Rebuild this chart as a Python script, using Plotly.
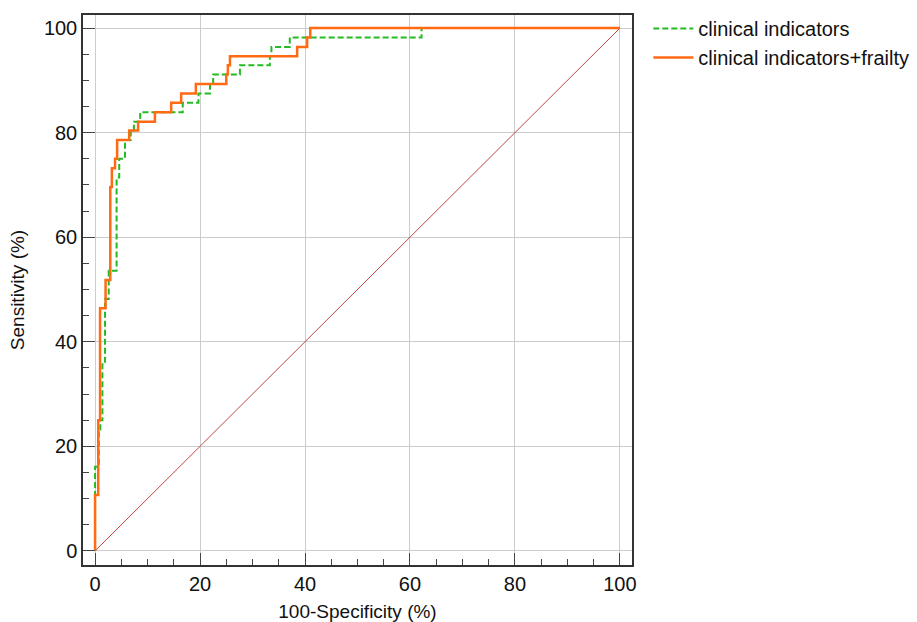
import plotly.graph_objects as go

# ROC operating points (100-Specificity %, Sensitivity %)
fpr_clinical = [0, 0, 0.7, 1.0, 1.4, 1.9, 2.6, 4.1, 4.6, 5.7, 6.8, 7.4, 8.6, 16.7,
                19.7, 21.9, 22.5, 27.6, 33.3, 33.6, 37.1, 62.2, 100]
sens_clinical = [0, 16.1, 23.2, 25.0, 35.7, 48.2, 53.6, 71.4, 75.0, 78.6, 80.4, 82.1, 83.9, 85.7,
                 87.5, 89.3, 91.1, 92.9, 94.6, 96.4, 98.2, 100, 100]

fpr_frailty = [0, 0, 0.6, 0.95, 2.0, 2.9, 3.2, 3.8, 4.2, 6.5, 8.2, 11.4, 14.5, 16.4,
               19.2, 25.0, 25.3, 25.7, 38.5, 40.4, 41.0, 100]
sens_frailty = [0, 10.7, 25.0, 46.4, 51.8, 69.6, 73.2, 75.0, 78.6, 80.4, 82.1, 83.9, 85.7, 87.5,
                89.3, 91.1, 92.9, 94.6, 96.4, 98.2, 100, 100]

diag_x = [0, 100]
diag_y = [0, 100]

series_names = ["clinical indicators", "clinical indicators+frailty"]
tick_vals = [0, 20, 40, 60, 80, 100]

FONT = "Liberation Sans, Arial, sans-serif"

fig = go.Figure()
fig.add_trace(go.Scatter(x=diag_x, y=diag_y, mode="lines",
                         line=dict(color="#C0463E", width=1), showlegend=False,
                         hoverinfo="skip"))
fig.add_trace(go.Scatter(x=fpr_clinical, y=sens_clinical, mode="lines", name=series_names[0],
                         line=dict(color="#22BB22", width=2, dash="6px,3px", shape="hv"),
                         legendgroup="a"))
fig.add_trace(go.Scatter(x=fpr_frailty, y=sens_frailty, mode="lines", name=series_names[1],
                         line=dict(color="#FF6A13", width=2.5, shape="hv"),
                         legendgroup="b"))

axis_common = dict(
    automargin=False,
    showline=True, linecolor="#333333", linewidth=1.5, mirror=True,
    showgrid=True, gridcolor="#CCCCCC", gridwidth=1, zeroline=False,
    ticks="inside", ticklen=12, tickcolor="#444444", tickwidth=1,
    tickvals=tick_vals,
    minor=dict(ticks="inside", ticklen=6, dtick=5, tick0=0, tickcolor="#444444",
               showgrid=False),
    tickfont=dict(family=FONT, size=20, color="#111111"),
)

fig.update_xaxes(range=[-2.3, 102.3],
                 title=dict(text="100-Specificity (%)", font=dict(family=FONT, size=19, color="#111111"),
                            standoff=12),
                 **axis_common)
fig.update_yaxes(range=[-2.7, 102.5],
                 title=dict(text="Sensitivity (%)", font=dict(family=FONT, size=19, color="#111111"),
                            standoff=14),
                 **axis_common)

fig.update_layout(
    width=917, height=622,
    margin=dict(l=83, r=285, t=15, b=57),
    paper_bgcolor="white", plot_bgcolor="white",
    font=dict(family=FONT, size=19, color="#111111"),
    legend=dict(xref="container", yref="container", x=0.707, xanchor="left",
                y=0.9855, yanchor="top",
                font=dict(family=FONT, size=20, color="#111111"),
                tracegroupgap=0, itemwidth=40, bgcolor="rgba(0,0,0,0)"),
)

fig.write_html("out.html", config={"displayModeBar": False},
               post_script="document.body.style.margin='0px';")
